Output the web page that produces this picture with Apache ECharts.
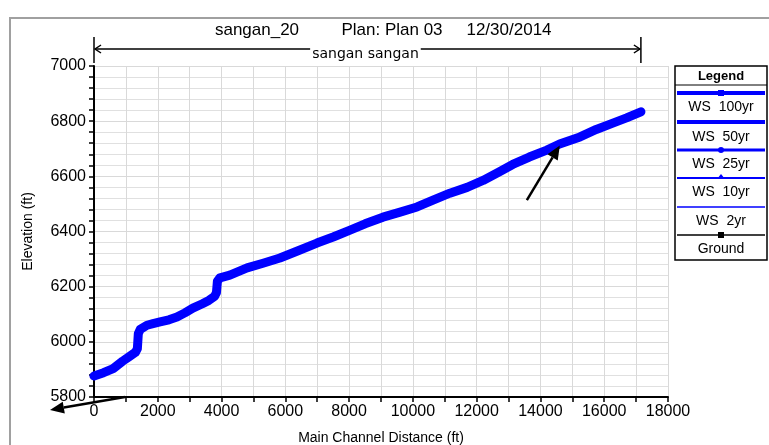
<!DOCTYPE html>
<html>
<head>
<meta charset="utf-8">
<script src="https://cdn.jsdelivr.net/npm/echarts@6/dist/echarts.min.js"></script>
<style>
html,body{margin:0;padding:0;background:#fff;}
#c{width:769px;height:445px;}
</style>
</head>
<body>
<div id="c"></div>
<script>
// ---- data ----
var titleParts = ['sangan_20', 'Plan: Plan 03', '12/30/2014'];
var reachName = 'sangan sangan';
var reachStart = 0;
var reachEnd = 17150;
var distance = [0, 300, 600, 900, 1100, 1300, 1360, 1390, 1450, 1660, 1850, 2070, 2350, 2600, 2850, 3100, 3400, 3600, 3780, 3840, 3870, 3950, 4260, 4800, 5300, 5830, 6400, 6990, 7500, 8030, 8500, 9060, 9600, 10130, 10650, 11160, 11700, 12200, 12700, 13130, 13650, 14200, 14600, 15240, 15750, 16270, 16700, 17150];
var wsElev = [5876, 5888, 5903, 5930, 5946, 5962, 5975, 6030, 6045, 6060, 6066, 6072, 6080, 6090, 6105, 6122, 6138, 6150, 6165, 6178, 6220, 6232, 6242, 6268, 6285, 6304, 6330, 6358, 6380, 6405, 6428, 6452, 6470, 6489, 6515, 6539, 6560, 6585, 6616, 6643, 6670, 6695, 6717, 6743, 6770, 6793, 6812, 6834];
var groundElev = [5866, 5878, 5893, 5920, 5936, 5952, 5965, 6020, 6035, 6050, 6056, 6062, 6070, 6080, 6095, 6112, 6128, 6140, 6155, 6168, 6210, 6222, 6232, 6258, 6275, 6294, 6320, 6348, 6370, 6395, 6418, 6442, 6460, 6479, 6505, 6529, 6550, 6575, 6606, 6633, 6660, 6685, 6707, 6733, 6760, 6783, 6802, 6824];
var legendNames = ['WS  100yr', 'WS  50yr', 'WS  25yr', 'WS  10yr', 'WS  2yr', 'Ground'];
// annotation arrows (data coordinates of tail and tip)
var arrow1 = [[13574, 6514], [14608, 6712]];
var arrow2 = [[970, 5800], [-1380, 5753]];

function pairs(xs, ys){ var o=[]; for(var i=0;i<xs.length;i++) o.push([xs[i], ys[i]]); return o; }

var chart = echarts.init(document.getElementById('c'), null, {renderer:'canvas'});
var FONT = 'Liberation Sans, Arial, sans-serif';
var blue = '#0000ff';

var series = [
  {name:'Ground', type:'line', data:pairs(distance, groundElev), showSymbol:false, lineStyle:{color:'#000', width:2}, silent:true, z:1, animation:false},
  {name:'WS 2yr', type:'line', data:pairs(distance, wsElev), showSymbol:false, lineStyle:{color:blue, width:2}, z:2, animation:false},
  {name:'WS 10yr', type:'line', data:pairs(distance, wsElev), showSymbol:false, lineStyle:{color:blue, width:3}, z:3, animation:false},
  {name:'WS 25yr', type:'line', data:pairs(distance, wsElev), showSymbol:false, lineStyle:{color:blue, width:4}, z:4, animation:false},
  {name:'WS 50yr', type:'line', data:pairs(distance, wsElev), showSymbol:false, lineStyle:{color:blue, width:6}, z:5, animation:false},
  {name:'WS 100yr', type:'line', data:pairs(distance, wsElev), showSymbol:false, lineStyle:{color:blue, width:9, join:'round', cap:'round'}, z:6, animation:false}
];

function plain(v){ return String(v); }

chart.setOption({
  backgroundColor:'#fff',
  animation:false,
  grid:{left:94, right:101, top:66, bottom:48, containLabel:false, outerBoundsMode:'none'},
  xAxis:{
    type:'value', min:0, max:18000, interval:2000,
    name:'Main Channel Distance (ft)', nameLocation:'middle', nameGap:34,
    nameTextStyle:{fontFamily:FONT, fontSize:14, color:'#000'},
    axisLine:{show:true, onZero:false, lineStyle:{color:'#000', width:2}},
    axisTick:{show:true, length:5, lineStyle:{color:'#000', width:1.5}},
    minorTick:{show:true, splitNumber:2, length:5, lineStyle:{color:'#000', width:1.5}},
    axisLabel:{fontFamily:FONT, fontSize:16, color:'#000', margin:7, formatter:plain},
    splitLine:{show:true, lineStyle:{color:'#d9d9d9', width:1}},
    minorSplitLine:{show:true, lineStyle:{color:'#d9d9d9', width:1}}
  },
  yAxis:{
    type:'value', min:5800, max:7000, interval:200,
    name:'Elevation (ft)', nameLocation:'middle', nameGap:59, nameRotate:90,
    nameTextStyle:{fontFamily:FONT, fontSize:14, color:'#000'},
    axisLine:{show:true, onZero:false, lineStyle:{color:'#000', width:2}},
    axisTick:{show:true, length:5, lineStyle:{color:'#000', width:1.5}},
    minorTick:{show:true, splitNumber:5, length:5, lineStyle:{color:'#000', width:1.5}},
    axisLabel:{fontFamily:FONT, fontSize:16, color:'#000', margin:8, formatter:plain},
    splitLine:{show:true, lineStyle:{color:'#d9d9d9', width:1}},
    minorSplitLine:{show:true, lineStyle:{color:'#e0e0e0', width:1}}
  },
  series:series
});

function px(p){ return chart.convertToPixel({gridIndex:0}, p); }

function arrowGraphic(tail, tip, headLen, headW){
  var a = px(tail), b = px(tip);
  var dx=b[0]-a[0], dy=b[1]-a[1], L=Math.sqrt(dx*dx+dy*dy);
  var ux=dx/L, uy=dy/L, nx=-uy, ny=ux;
  var bx=b[0]-ux*headLen, by=b[1]-uy*headLen;
  return [
    {type:'line', shape:{x1:a[0], y1:a[1], x2:bx, y2:by}, style:{stroke:'#000', lineWidth:2.5}, z:100},
    {type:'polygon', shape:{points:[[b[0],b[1]],[bx+nx*headW, by+ny*headW],[bx-nx*headW, by-ny*headW]]}, style:{fill:'#000'}, z:100}
  ];
}

var g = [];
// outer frame
g.push({type:'rect', shape:{x:10, y:18, width:800, height:480}, style:{fill:null, stroke:'#a0a0a0', lineWidth:2}, z:0, silent:true});
// title (three parts, spaced as in the reference)
var titleX = [257, 392, 509];
for (var t=0;t<titleParts.length;t++){
  g.push({type:'text', x:titleX[t], y:30, style:{text:titleParts[t], fontFamily:FONT, fontSize:17, fill:'#000', align:'center', verticalAlign:'middle'}, z:10});
}
// reach bracket
var r0 = px([reachStart, 7000])[0], r1 = px([reachEnd, 7000])[0];
var by0 = 49;
g.push({type:'line', shape:{x1:r0, y1:37, x2:r0, y2:63}, style:{stroke:'#000', lineWidth:1.5}});
g.push({type:'line', shape:{x1:r1, y1:37, x2:r1, y2:63}, style:{stroke:'#000', lineWidth:1.5}});
g.push({type:'line', shape:{x1:r0+1, y1:by0, x2:r1-1, y2:by0}, style:{stroke:'#000', lineWidth:1.5}});
g.push({type:'polyline', shape:{points:[[r0+7,by0-4],[r0+1,by0],[r0+7,by0+4]]}, style:{stroke:'#000', lineWidth:1.5, fill:null}});
g.push({type:'polyline', shape:{points:[[r1-7,by0-4],[r1-1,by0],[r1-7,by0+4]]}, style:{stroke:'#000', lineWidth:1.5, fill:null}});
g.push({type:'text', x:(r0+r1)/2 - 2, y:by0+5, style:{text:reachName, fontFamily:'DejaVu Sans, sans-serif', fontSize:14, fill:'#000', align:'center', verticalAlign:'middle', backgroundColor:'#fff', padding:[0,2]}, z:10});
// annotation arrows
g = g.concat(arrowGraphic(arrow1[0], arrow1[1], 14, 6));
g = g.concat(arrowGraphic(arrow2[0], arrow2[1], 14, 6));

// legend box
var LX=675, LY=66, LW=92, LH=194;
g.push({type:'rect', shape:{x:LX, y:LY, width:LW, height:LH}, style:{fill:'#fff', stroke:'#000', lineWidth:1.5}, z:50});
g.push({type:'text', x:LX+LW/2, y:76, style:{text:'Legend', fontFamily:FONT, fontSize:13, fontWeight:'bold', fill:'#000', align:'center', verticalAlign:'middle'}, z:51});
g.push({type:'line', shape:{x1:LX, y1:85, x2:LX+LW, y2:85}, style:{stroke:'#000', lineWidth:1}, z:51});
var rowLineY = [93, 122, 150, 178, 207, 235];
var rowTextY = [107, 137, 164, 192, 221, 249];
var rowW = [4, 4, 3, 2, 1.5, 1.5];
var rowColor = [blue, blue, blue, blue, blue, '#000'];
var cx = LX+LW/2;
for (var i=0;i<legendNames.length;i++){
  g.push({type:'line', shape:{x1:LX+2, y1:rowLineY[i], x2:LX+LW-2, y2:rowLineY[i]}, style:{stroke:rowColor[i], lineWidth:rowW[i]}, z:51});
  g.push({type:'text', x:cx, y:rowTextY[i], style:{text:legendNames[i], fontFamily:FONT, fontSize:14, fill:'#000', align:'center', verticalAlign:'middle'}, z:51});
}
// legend markers
g.push({type:'rect', shape:{x:cx-3, y:rowLineY[0]-3, width:6, height:6}, style:{fill:blue}, z:52});
g.push({type:'polyline', shape:{points:[[cx-2,rowLineY[1]-2],[cx+2,rowLineY[1]+2]]}, style:{stroke:blue, lineWidth:1}, z:52});
g.push({type:'polyline', shape:{points:[[cx-2,rowLineY[1]+2],[cx+2,rowLineY[1]-2]]}, style:{stroke:blue, lineWidth:1}, z:52});
g.push({type:'circle', shape:{cx:cx, cy:rowLineY[2], r:3}, style:{fill:blue}, z:52});
g.push({type:'polygon', shape:{points:[[cx,rowLineY[3]-4],[cx+4,rowLineY[3]+1],[cx-4,rowLineY[3]+1]]}, style:{fill:blue}, z:52});
g.push({type:'rect', shape:{x:cx-3, y:rowLineY[5]-3, width:6, height:6}, style:{fill:'#000'}, z:52});

chart.setOption({graphic:{elements:g}});
</script>
</body>
</html>
